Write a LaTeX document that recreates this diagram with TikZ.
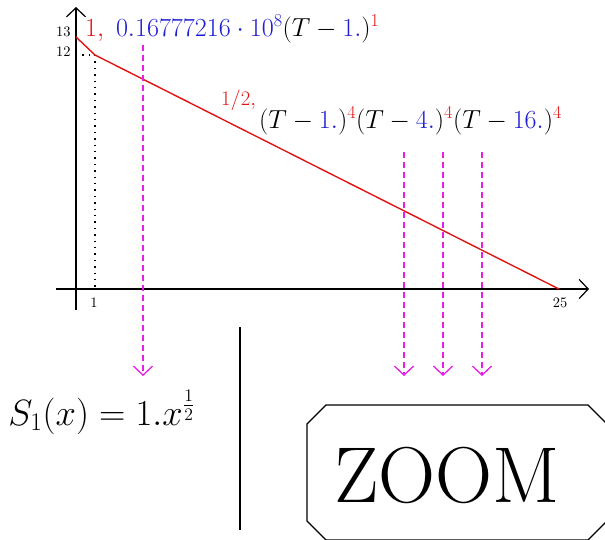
\documentclass[tikz,border=0pt]{standalone}
\usetikzlibrary{arrows.meta}
\DeclareMathSizes{24.88}{24.88}{17.28}{12}
\definecolor{mred}{RGB}{225,20,20}
\definecolor{mblue}{RGB}{30,30,210}
\definecolor{mmag}{RGB}{230,30,230}
\begin{document}
\begin{tikzpicture}[x=1pt,y=-1pt,
  axis/.style={line width=1.2pt,-{Straight Barb[length=9pt,width=19pt,line width=1.2pt]}},
  curve/.style={mred,line width=1.4pt},
  guide/.style={line width=1.4pt,dash pattern=on 1.4pt off 5pt},
  zoomarrow/.style={mmag,line width=1.3pt,dash pattern=on 6pt off 4pt,-{Straight Barb[length=9pt,width=19pt,line width=1.3pt]}},
  tick/.style={font=\normalsize,scale=1.45,inner sep=0pt},
  lbl/.style={inner sep=0pt,font=\Huge,scale=1.05}]
\useasboundingbox (0,0) rectangle (605,539);
% axes
\coordinate (xs) at (56,289);
\coordinate (xe) at (589,289);
\coordinate (ys) at (76,310);
\coordinate (ye) at (76,7);
\draw[axis] (xs) -- (xe);
\draw[axis] (ys) -- (ye);
% curve
\coordinate (p0) at (76,37);
\coordinate (p1) at (95,55);
\coordinate (p2) at (559,289);
\coordinate (p1y) at (76,55);
\coordinate (p1x) at (95,289);
\draw[guide] (p1y) -- (p1);
\draw[guide] (p1) -- (p1x);
\draw[curve] (p0) -- (p1) -- (p2);
% ticks
\node[tick,anchor=base east] (t13) at (71,36) {13};
\node[tick,anchor=base east] (t12) at (71,56) {12};
\node[tick,anchor=north] (t1) at (94,298) {1};
\node[tick,anchor=north] (t25) at (560,298) {25};
% labels
\node[lbl,anchor=base west] (l1) at (85,36)
 {$\color{mred}1,\hspace{7pt}\color{mblue}0.16777216\cdot 10^8\color{black}(T-\color{mblue}1.\color{black})^{\color{mred}1}$};
\node[inner sep=0pt,anchor=base west,font=\huge,text=mred] (l2) at (221,105) {$1/2,$};
\node[lbl,anchor=base west] (l3) at (259,128)
 {$(T-\color{mblue}1.\color{black})^{\color{mred}4}(T-\color{mblue}4.\color{black})^{\color{mred}4}(T-\color{mblue}16.\color{black})^{\color{mred}4}$};
% magenta arrows
\coordinate (a1s) at (143,45);  \coordinate (a1e) at (143,376);
\coordinate (a2s) at (404,152); \coordinate (a2e) at (404,376);
\coordinate (a3s) at (443,152); \coordinate (a3e) at (443,376);
\coordinate (a4s) at (482,152); \coordinate (a4e) at (482,376);
\draw[zoomarrow] (a1s) -- (a1e);
\draw[zoomarrow] (a2s) -- (a2e);
\draw[zoomarrow] (a3s) -- (a3e);
\draw[zoomarrow] (a4s) -- (a4e);
% separator
\coordinate (vs) at (240,327);
\coordinate (ve) at (240,530);
\draw[line width=1.2pt] (vs) -- (ve);
% S1 formula
\node[inner sep=0pt,anchor=base west,font=\Huge,scale=1.47] (s1) at (8,425) {$S_1(x)=1.x^{\frac12}$};
% ZOOM box
\draw[line width=1.2pt] (326,405) -- (588,405) -- (607,424) -- (607,521) -- (588,540) -- (326,540) -- (307,521) -- (307,424) -- cycle;
\node[inner sep=0pt,anchor=base,font=\Huge,scale=3.18] (zoom) at (447,502) {ZOOM};
\end{tikzpicture}
\end{document}
